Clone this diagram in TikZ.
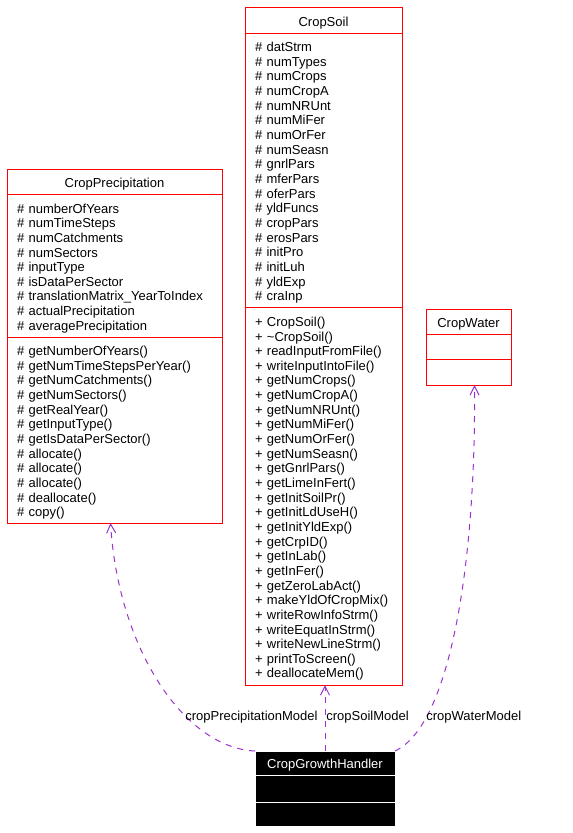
\documentclass[tikz,border=0pt]{standalone}
\usepackage{fontspec}
\setmainfont{Liberation Sans}
\usepackage{xcolor}
\definecolor{umlred}{HTML}{FF0000}
\definecolor{umlpurple}{HTML}{9A32CD}
\usetikzlibrary{positioning, arrows.meta}

\begin{document}
\begin{tikzpicture}[x=1pt, y=-1pt, line width=1pt,
        every node/.style={font=\fontsize{13}{14.65}\selectfont, outer sep=0pt, inner ysep=0pt},
        ctitle/.style={draw=umlred, align=center, minimum height=#1, execute at begin node={\rule{0pt}{15pt}}},
        cpart/.style={draw=umlred, align=left, inner xsep=10pt, minimum height=#1, execute at begin node={\rule{0pt}{15pt}}},
        htitle/.style={draw=white, fill=black, text=white, align=center, minimum height=#1, execute at begin node={\rule{0pt}{14pt}}},
        dep/.style={umlpurple, dash pattern=on 6pt off 6pt, -{Straight Barb[length=9pt, width=9pt]}}]
    \useasboundingbox (0,0) rectangle (573,833);

    % CropPrecipitation
    \node[ctitle=25pt, minimum width=215pt, anchor=north west] (cpt) at (7,169) {CropPrecipitation};
    \node[cpart=143pt, text width=195pt, below=0pt of cpt] (cpa) {\# numberOfYears\\ \# numTimeSteps\\ \# numCatchments\\ \# numSectors\\ \# inputType\\ \# isDataPerSector\\ \# translationMatrix\_YearToIndex\\ \# actualPrecipitation\\ \# averagePrecipitation};
    \node[cpart=186pt, text width=195pt, below=0pt of cpa] (cpm) {\# getNumberOfYears()\\ \# getNumTimeStepsPerYear()\\ \# getNumCatchments()\\ \# getNumSectors()\\ \# getRealYear()\\ \# getInputType()\\ \# getIsDataPerSector()\\ \# allocate()\\ \# allocate()\\ \# allocate()\\ \# deallocate()\\ \# copy()};

    % CropSoil
    \node[ctitle=26pt, minimum width=157pt, anchor=north west] (cst) at (245,7) {CropSoil};
    \node[cpart=274pt, text width=137pt, below=0pt of cst] (csa) {\# datStrm\\ \# numTypes\\ \# numCrops\\ \# numCropA\\ \# numNRUnt\\ \# numMiFer\\ \# numOrFer\\ \# numSeasn\\ \# gnrlPars\\ \# mferPars\\ \# oferPars\\ \# yldFuncs\\ \# cropPars\\ \# erosPars\\ \# initPro\\ \# initLuh\\ \# yldExp\\ \# craInp};
    \node[cpart=378pt, text width=137pt, below=0pt of csa] (csm) {+ CropSoil()\\ + \char`~CropSoil()\\ + readInputFromFile()\\ + writeInputIntoFile()\\ + getNumCrops()\\ + getNumCropA()\\ + getNumNRUnt()\\ + getNumMiFer()\\ + getNumOrFer()\\ + getNumSeasn()\\ + getGnrlPars()\\ + getLimeInFert()\\ + getInitSoilPr()\\ + getInitLdUseH()\\ + getInitYldExp()\\ + getCrpID()\\ + getInLab()\\ + getInFer()\\ + getZeroLabAct()\\ + makeYldOfCropMix()\\ + writeRowInfoStrm()\\ + writeEquatInStrm()\\ + writeNewLineStrm()\\ + printToScreen()\\ + deallocateMem()};

    % CropWater
    \node[ctitle=25pt, minimum width=85pt, anchor=north west] (cwt) at (426,309) {CropWater};
    \node[cpart=25pt, minimum width=85pt, below=0pt of cwt] (cwa) {};
    \node[cpart=26pt, minimum width=85pt, below=0pt of cwa] (cwm) {};

    % CropGrowthHandler
    \node[htitle=24pt, minimum width=140pt, anchor=north west] (cgt) at (255,751) {CropGrowthHandler};
    \node[htitle=27pt, minimum width=140pt, below=0pt of cgt] (cga) {};
    \node[htitle=24pt, minimum width=140pt, below=0pt of cga] (cgm) {};

    % usage relations
    \draw[dep] (cgt.north west) .. controls +(-70,-3) and +(8,127) .. ([xshift=-4pt]cpm.south);
    \draw[dep] (cgt.north) -- (cgt.north |- csm.south);
    \draw[dep] (cgt.north east) .. controls +(56,-26) and +(1.5,175) .. ([xshift=6pt]cwm.south);

    \node[anchor=west] (lcp) at (182,717) {cropPrecipitationModel};
    \node[anchor=west] (lcs) at (323,717) {cropSoilModel};
    \node[anchor=west] (lcw) at (423,717) {cropWaterModel};
\end{tikzpicture}
\end{document}
